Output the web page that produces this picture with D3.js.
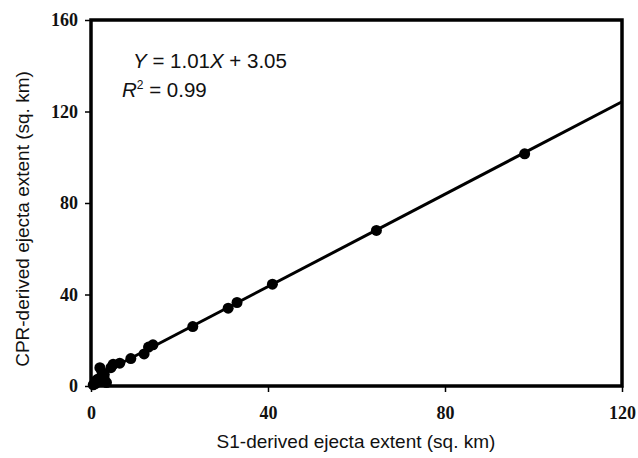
<!DOCTYPE html>
<html>
<head>
<meta charset="utf-8">
<script src="https://cdn.jsdelivr.net/npm/d3@7"></script>
<style>
  body { margin: 0; background: #fff; }
</style>
</head>
<body>
<div id="chart"></div>
<script>
// S1-derived vs CPR-derived ejecta extent (sq. km)
var s1Extent  = [0.5, 1, 1.5, 2, 2, 2.5, 3, 3, 3.5, 4.5, 5, 6.5, 9, 12, 13, 14, 23, 31, 33, 41, 64.5, 98];
var cprExtent = [0.5, 1, 3, 2, 8, 6, 5, 3, 1.5, 8, 9.5, 10, 12, 14, 17, 18, 26, 34, 36.5, 44.5, 68, 101.5];
var xTicks = [0, 40, 80, 120];
var yTicks = [0, 40, 80, 120, 160];
var fitSlope = 1.01, fitIntercept = 3.05;

var width = 638, height = 458;
var margin = {left: 91, right: 16, top: 20, bottom: 72};

var svg = d3.select("#chart")
  .append("svg")
  .attr("width", width)
  .attr("height", height);

var x = d3.scaleLinear().domain([0, 120]).range([margin.left, width - margin.right]);
var y = d3.scaleLinear().domain([0, 160]).range([height - margin.bottom, margin.top]);

// axes
var xAxis = svg.append("g")
  .attr("transform", "translate(0," + y(0) + ")")
  .call(d3.axisBottom(x).tickValues(xTicks).tickSize(6).tickPadding(14));
var yAxis = svg.append("g")
  .attr("transform", "translate(" + x(0) + ",0)")
  .call(d3.axisLeft(y).tickValues(yTicks).tickSize(6).tickPadding(7));

[xAxis, yAxis].forEach(function (a) {
  a.select(".domain").remove();
  a.selectAll("line").attr("stroke", "#000").attr("stroke-width", 1.5);
  a.selectAll("text")
    .attr("fill", "#111")
    .style("font-family", "'Liberation Serif', 'Times New Roman', serif")
    .style("font-weight", "bold")
    .style("font-size", "18px");
});

// frame
svg.append("rect")
  .attr("x", x(0))
  .attr("y", y(160))
  .attr("width", x(120) - x(0))
  .attr("height", y(0) - y(160))
  .attr("fill", "none")
  .attr("stroke", "#000")
  .attr("stroke-width", 3.5);

// regression line
svg.append("line")
  .attr("x1", x(0))
  .attr("y1", y(fitIntercept))
  .attr("x2", x(120))
  .attr("y2", y(fitSlope * 120 + fitIntercept))
  .attr("stroke", "#000")
  .attr("stroke-width", 3);

// points
svg.append("g")
  .selectAll("circle")
  .data(s1Extent)
  .enter()
  .append("circle")
  .attr("cx", function (d) { return x(d); })
  .attr("cy", function (d, i) { return y(cprExtent[i]); })
  .attr("r", 5.5)
  .attr("fill", "#000");

// equation
var eq = svg.append("g")
  .style("font-family", "'Liberation Sans', Arial, sans-serif")
  .style("font-size", "20.5px")
  .attr("fill", "#111");
var t1 = eq.append("text").attr("x", 133).attr("y", 68);
t1.append("tspan").style("font-style", "italic").text("Y");
t1.append("tspan").text(" = 1.01");
t1.append("tspan").style("font-style", "italic").text("X");
t1.append("tspan").text(" + 3.05");
var t2 = eq.append("text").attr("x", 122).attr("y", 97);
t2.append("tspan").style("font-style", "italic").text("R");
t2.append("tspan").attr("dy", -8).style("font-size", "12px").text("2");
t2.append("tspan").attr("dy", 8).text(" = 0.99");

// axis titles
svg.append("text")
  .attr("x", 356)
  .attr("y", 448)
  .attr("text-anchor", "middle")
  .style("font-family", "'Liberation Sans', Arial, sans-serif")
  .style("font-size", "19px")
  .attr("fill", "#111")
  .text("S1-derived ejecta extent (sq. km)");

svg.append("text")
  .attr("transform", "translate(29," + 219 + ") rotate(-90)")
  .attr("text-anchor", "middle")
  .style("font-family", "'Liberation Sans', Arial, sans-serif")
  .style("font-size", "19px")
  .attr("fill", "#111")
  .text("CPR-derived ejecta extent (sq. km)");
</script>
</body>
</html>
